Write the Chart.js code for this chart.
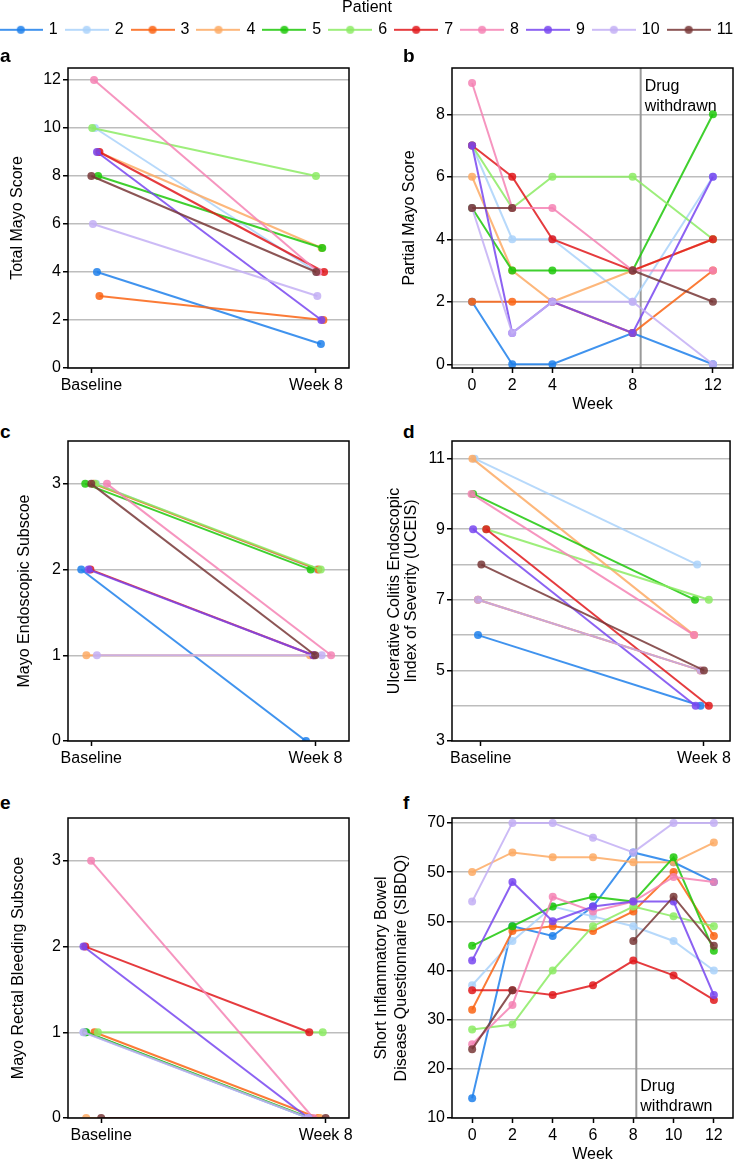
<!DOCTYPE html>
<html>
<head>
<meta charset="utf-8">
<script src="https://cdn.jsdelivr.net/npm/chart.js@4.4.1/dist/chart.umd.min.js"></script>
<style>
  html, body { margin: 0; padding: 0; background: #fff; }
  body { width: 734px; height: 1162px; position: relative; overflow: hidden;
         font-family: "Liberation Sans", Arial, Helvetica, sans-serif; }
  canvas { position: absolute; }
  .tag { position: absolute; font-weight: bold; font-size: 19px; line-height: 19px; }
</style>
</head>
<body>
<canvas id="legend" width="754" height="100" style="left:-10px;top:0"></canvas>

<div class="tag" style="left:0;top:46px">a</div>
<div class="tag" style="left:403px;top:46px">b</div>
<div class="tag" style="left:0;top:422px">c</div>
<div class="tag" style="left:403px;top:422px">d</div>
<div class="tag" style="left:0;top:793px">e</div>
<div class="tag" style="left:403px;top:793px">f</div>

<canvas id="chartA" width="367" height="360" style="left:0;top:40px"></canvas>
<canvas id="chartB" width="367" height="378" style="left:367px;top:40px"></canvas>
<canvas id="chartC" width="367" height="360" style="left:0;top:413px"></canvas>
<canvas id="chartD" width="367" height="360" style="left:367px;top:413px"></canvas>
<canvas id="chartE" width="367" height="360" style="left:0;top:790px"></canvas>
<canvas id="chartF" width="367" height="372" style="left:367px;top:790px"></canvas>

<script>
// patients and colours
const patients = ['1', '2', '3', '4', '5', '6', '7', '8', '9', '10', '11'];
const colors = [
  'rgba(31,128,235,0.85)', 'rgba(170,210,250,0.85)', 'rgba(250,100,20,0.85)',
  'rgba(253,170,100,0.85)', 'rgba(30,200,10,0.85)', 'rgba(140,235,100,0.85)',
  'rgba(225,25,28,0.85)', 'rgba(245,130,180,0.85)', 'rgba(120,70,240,0.85)',
  'rgba(195,175,245,0.85)', 'rgba(120,55,55,0.85)'
];
const periodX = [0, 1];
const periodLabels = ['Baseline', 'Week 8'];

// a - total Mayo score (baseline / week 8) + small horizontal jitter
const totalMayoBase = [4, 10, 3, 9, 8, 10, 9, 12, 9, 6, 8];
const totalMayoWk8 = [1, 4, 2, 5, 5, 8, 4, 4, 2, 3, 4];
const totalMayoJitBase = [0.025, 0.016, 0.036, 0.03, 0.03, 0.004, 0.036, 0.012, 0.025, 0.007, 0];
const totalMayoJitWk8 = [0.022, 0.003, 0.033, 0.025, 0.028, 0, 0.036, 0.01, 0.024, 0.006, 0.001];
const aTickLabels = ['0', '2', '4', '6', '8', '10', '12'];

// b - partial Mayo score by week
const partialWeeks = [0, 2, 4, 8, 12];
const partialWeekLabels = ['0', '2', '4', '8', '12'];
const partialMayo = [
  [2, 0, 0, 1, 0],
  [7, 4, 4, 2, 6],
  [2, 2, 2, 1, 3],
  [6, 3, 2, 3, 4],
  [5, 3, 3, 3, 8],
  [7, 5, 6, 6, 4],
  [7, 6, 4, 3, 4],
  [9, 5, 5, 3, 3],
  [7, 1, 2, 1, 6],
  [5, 1, 2, 2, 0],
  [5, 5, null, 3, 2]
];
const bTickLabels = ['0', '2', '4', '6', '8'];
const withdrawnWeekB = 8.4;

// c - Mayo endoscopic subscore
const endoBase = [2, 3, 3, 1, 3, 3, 2, 3, 2, 1, 3];
const endoWk8 = [0, 2, 2, 1, 2, 2, 1, 1, 1, 1, 1];
const endoJitBase = [-0.045, 0.022, 0.01, -0.022, -0.027, 0.018, -0.004, 0.07, -0.012, 0.025, 0];
const endoJitWk8 = [-0.042, 0.006, 0.013, -0.024, -0.021, 0.024, -0.009, 0.07, -0.009, 0.028, -0.001];
const cTickLabels = ['0', '1', '2', '3'];

// d - UCEIS
const uceisBase = [6, 11, 7, 11, 10, 9, 9, 10, 9, 7, 8];
const uceisWk8 = [4, 8, 5, 6, 7, 7, 4, 6, 4, 5, 5];
const uceisJitBase = [-0.012, -0.027, -0.012, -0.037, -0.034, 0.025, 0.025, -0.041, -0.034, -0.012, 0.003];
const uceisJitWk8 = [-0.015, -0.03, -0.015, -0.044, -0.04, 0.022, 0.022, -0.044, -0.037, -0.015, 0];
const dTickLabels = ['3', '', '5', '', '7', '', '9', '', '11'];

// e - Mayo rectal bleeding subscore
const bleedBase = [1, 1, 1, 0, 1, 1, 2, 3, 2, 1, 0];
const bleedWk8 = [0, 0, 0, 0, 0, 1, 1, 0, 0, 0, 0];
const bleedJitBase = [-0.071, -0.079, -0.03, -0.067, -0.067, -0.015, -0.071, -0.045, -0.079, -0.079, 0];
const bleedJitWk8 = [-0.077, -0.077, -0.033, -0.025, -0.07, -0.013, -0.073, -0.055, -0.077, -0.077, 0];
const eTickLabels = ['0', '1', '2', '3'];

// f - SIBDQ by week
const sibdqWeeks = [0, 2, 4, 6, 8, 10, 12];
const sibdqWeekLabels = ['0', '2', '4', '6', '8', '10', '12'];
const sibdq = [
  [14, 49, 47, 53, 64, 62, 58],
  [37, 46, 53, 51, 49, 46, 40],
  [32, 48, 49, 48, 52, 60, 47],
  [60, 64, 63, 63, 62, 62, 66],
  [45, 49, 53, 55, 54, 63, 44],
  [28, 29, 40, 49, 53, 51, 49],
  [36, 36, 35, 37, 42, 39, 34],
  [25, 33, 55, 52, 54, 59, 58],
  [42, 58, 50, 53, 54, 54, 35],
  [54, 70, 70, 67, 64, 70, 70],
  [24, 36, null, null, 46, 55, 45]
];
const fTickLabels = ['10', '20', '30', '40', '50', '50', '70'];
const withdrawnWeekF = 8.15;

Chart.defaults.font.family = '"Liberation Sans", Arial, Helvetica, sans-serif';
Chart.defaults.font.size = 16;
Chart.defaults.color = '#000';

// black box round the plot area
const frame = {
  id: 'frame',
  afterDraw(chart) {
    const { ctx, chartArea: a } = chart;
    ctx.save();
    ctx.strokeStyle = '#000';
    ctx.lineWidth = 1.5;
    ctx.strokeRect(a.left, a.top, a.right - a.left, a.bottom - a.top);
    ctx.restore();
  }
};

// "Drug withdrawn" text next to the vertical line
const withdrawnText = {
  id: 'withdrawnText',
  afterDatasetsDraw(chart, args, opts) {
    if (!opts.lines) return;
    const { ctx, chartArea, scales } = chart;
    const x = scales.x.getPixelForValue(opts.week) + 4;
    ctx.save();
    ctx.font = '16px "Liberation Sans", Arial, sans-serif';
    ctx.fillStyle = '#000';
    ctx.textBaseline = 'middle';
    const n = opts.lines.length;
    opts.lines.forEach((t, i) => {
      const y = opts.at === 'top' ? chartArea.top + 19 + i * 20 : chartArea.bottom - 11 - (n - 1 - i) * 20;
      ctx.fillText(t, x, y);
    });
    ctx.restore();
  }
};

function styleFor(i) {
  return {
    label: patients[i],
    borderColor: colors[i],
    backgroundColor: colors[i],
    pointBackgroundColor: colors[i],
    borderWidth: 2,
    pointRadius: 4,
    pointHoverRadius: 4,
    pointBorderWidth: 0,
    tension: 0,
    spanGaps: false,
    order: patients.length - i
  };
}

function pairedSets(base, wk8, jb, jw) {
  return patients.map((p, i) => Object.assign(styleFor(i), {
    data: [{ x: periodX[0] + jb[i], y: base[i] }, { x: periodX[1] + jw[i], y: wk8[i] }]
  }));
}

function weeklySets(weeks, rows) {
  return rows.map((row, i) => Object.assign(styleFor(i), {
    data: weeks.map((w, k) => ({ x: w, y: row[k] }))
  }));
}

function withdrawnLine(week) {
  return { data: [{ x: week, y: -1000 }, { x: week, y: 1000 }], borderColor: '#9a9a9a',
           borderWidth: 2, pointRadius: 0, order: 100 };
}

function panel(id, datasets, o) {
  return new Chart(document.getElementById(id), {
    type: 'line',
    data: { datasets },
    options: {
      responsive: false,
      animation: false,
      events: [],
      layout: { padding: { top: 28, right: o.padRight, left: 0, bottom: 0 }, autoPadding: false },
      plugins: {
        legend: { display: false },
        tooltip: { enabled: false },
        withdrawnText: o.withdrawn || {}
      },
      scales: {
        x: {
          type: 'linear', min: o.xMin, max: o.xMax,
          afterBuildTicks: s => { s.ticks = o.xTicks.map(v => ({ value: v })); },
          afterFit: s => { s.height = o.xH; },
          ticks: { callback: (v, i) => o.xLabels[i], autoSkip: false, maxRotation: 0, padding: 3 },
          grid: { drawOnChartArea: false, tickLength: 5, tickColor: '#000', tickWidth: 1.5 },
          border: { display: false },
          title: o.xTitle ? { display: true, text: o.xTitle, padding: { top: 0, bottom: o.xTitlePad } }
                          : { display: false }
        },
        y: {
          type: 'linear', min: o.yMin, max: o.yMax,
          afterFit: s => { s.width = o.yW; },
          ticks: { stepSize: o.yStep, includeBounds: false, padding: 2,
                   callback: (v, i) => o.yLabels[i] },
          grid: { color: '#bdbdbd', lineWidth: 1.5, tickLength: 5, tickWidth: 1.5,
                  tickColor: c => (o.yLabels[c.index] ? '#000' : 'rgba(0,0,0,0)') },
          border: { display: false },
          title: { display: true, text: o.yTitle, padding: { top: o.yTitlePad, bottom: 0 },
                   font: { size: 16, lineHeight: o.yTitleLH || 1.2 } }
        }
      }
    },
    plugins: [frame, withdrawnText]
  });
}

// legend strip: line + dot swatch for every patient
function swatch(color) {
  const c = document.createElement('canvas');
  c.width = 44; c.height = 12;
  const g = c.getContext('2d');
  g.strokeStyle = color; g.lineWidth = 2;
  g.beginPath(); g.moveTo(0, 6); g.lineTo(44, 6); g.stroke();
  g.fillStyle = color;
  g.beginPath(); g.arc(22, 6, 4, 0, Math.PI * 2); g.fill();
  return c;
}

new Chart(document.getElementById('legend'), {
  type: 'line',
  data: { datasets: [] },
  options: {
    responsive: false, animation: false, events: [],
    layout: { padding: 0 },
    scales: { x: { display: false }, y: { display: false } },
    plugins: {
      tooltip: { enabled: false },
      legend: {
        display: true, position: 'top', align: 'center',
        title: { display: true, text: 'Patient', color: '#000', padding: 0,
                 font: { size: 16, lineHeight: 0.8 } },
        labels: {
          usePointStyle: true, pointStyleWidth: 40, padding: 9, color: '#000',
          font: { size: 16 },
          generateLabels: () => patients.map((p, i) => ({
            text: p, fillStyle: colors[i], strokeStyle: colors[i], lineWidth: 0,
            pointStyle: swatch(colors[i]), hidden: false, datasetIndex: i, fontColor: '#000'
          }))
        }
      }
    }
  }
});

panel('chartA', pairedSets(totalMayoBase, totalMayoWk8, totalMayoJitBase, totalMayoJitWk8), {
  padRight: 18, yW: 68, xH: 32, xMin: -0.104, xMax: 1.147, xTicks: periodX, xLabels: periodLabels,
  yMin: 0, yMax: 12.5, yStep: 2, yLabels: aTickLabels, yTitle: 'Total Mayo Score', yTitlePad: 8.4
});

panel('chartB', weeklySets(partialWeeks, partialMayo).concat([withdrawnLine(withdrawnWeekB)]), {
  padRight: 1, yW: 85, xH: 50, xMin: -1, xMax: 13, xTicks: partialWeeks, xLabels: partialWeekLabels,
  xTitle: 'Week', xTitlePad: 3.4,
  yMin: -0.12, yMax: 9.48, yStep: 2, yLabels: bTickLabels, yTitle: 'Partial Mayo Score', yTitlePad: 33.4,
  withdrawn: { week: withdrawnWeekB, lines: ['Drug', 'withdrawn'], at: 'top' }
});

panel('chartC', pairedSets(endoBase, endoWk8, endoJitBase, endoJitWk8), {
  padRight: 18, yW: 68, xH: 32, xMin: -0.104, xMax: 1.15, xTicks: periodX, xLabels: periodLabels,
  yMin: 0, yMax: 3.5, yStep: 1, yLabels: cTickLabels, yTitle: 'Mayo Endoscopic Subscoe', yTitlePad: 15.4
});

panel('chartD', pairedSets(uceisBase, uceisWk8, uceisJitBase, uceisJitWk8), {
  padRight: 1, yW: 85, xH: 32, xMin: -0.1285, xMax: 1.117, xTicks: periodX, xLabels: periodLabels,
  yMin: 3, yMax: 11.5, yStep: 1, yLabels: dTickLabels,
  yTitle: ['Ulcerative Colitis Endoscopic', 'Index of Severity (UCEIS)'], yTitlePad: 19.5, yTitleLH: 1.06
});

panel('chartE', pairedSets(bleedBase, bleedWk8, bleedJitBase, bleedJitWk8), {
  padRight: 18, yW: 68, xH: 32, xMin: -0.148, xMax: 1.104, xTicks: periodX, xLabels: periodLabels,
  yMin: 0, yMax: 3.5, yStep: 1, yLabels: eTickLabels, yTitle: 'Mayo Rectal Bleeding Subscoe', yTitlePad: 8.7
});

panel('chartF', weeklySets(sibdqWeeks, sibdq).concat([withdrawnLine(withdrawnWeekF)]), {
  padRight: 1, yW: 85, xH: 44, xMin: -1, xMax: 12.95, xTicks: sibdqWeeks, xLabels: sibdqWeekLabels,
  xTitle: 'Week', xTitlePad: -2,
  yMin: 10, yMax: 71, yStep: 10, yLabels: fTickLabels,
  yTitle: ['Short Inflammatory Bowel', 'Disease Questionnaire (SIBDQ)'], yTitlePad: 4.7, yTitleLH: 1.25,
  withdrawn: { week: withdrawnWeekF, lines: ['Drug', 'withdrawn'], at: 'bottom' }
});
</script>
</body>
</html>
